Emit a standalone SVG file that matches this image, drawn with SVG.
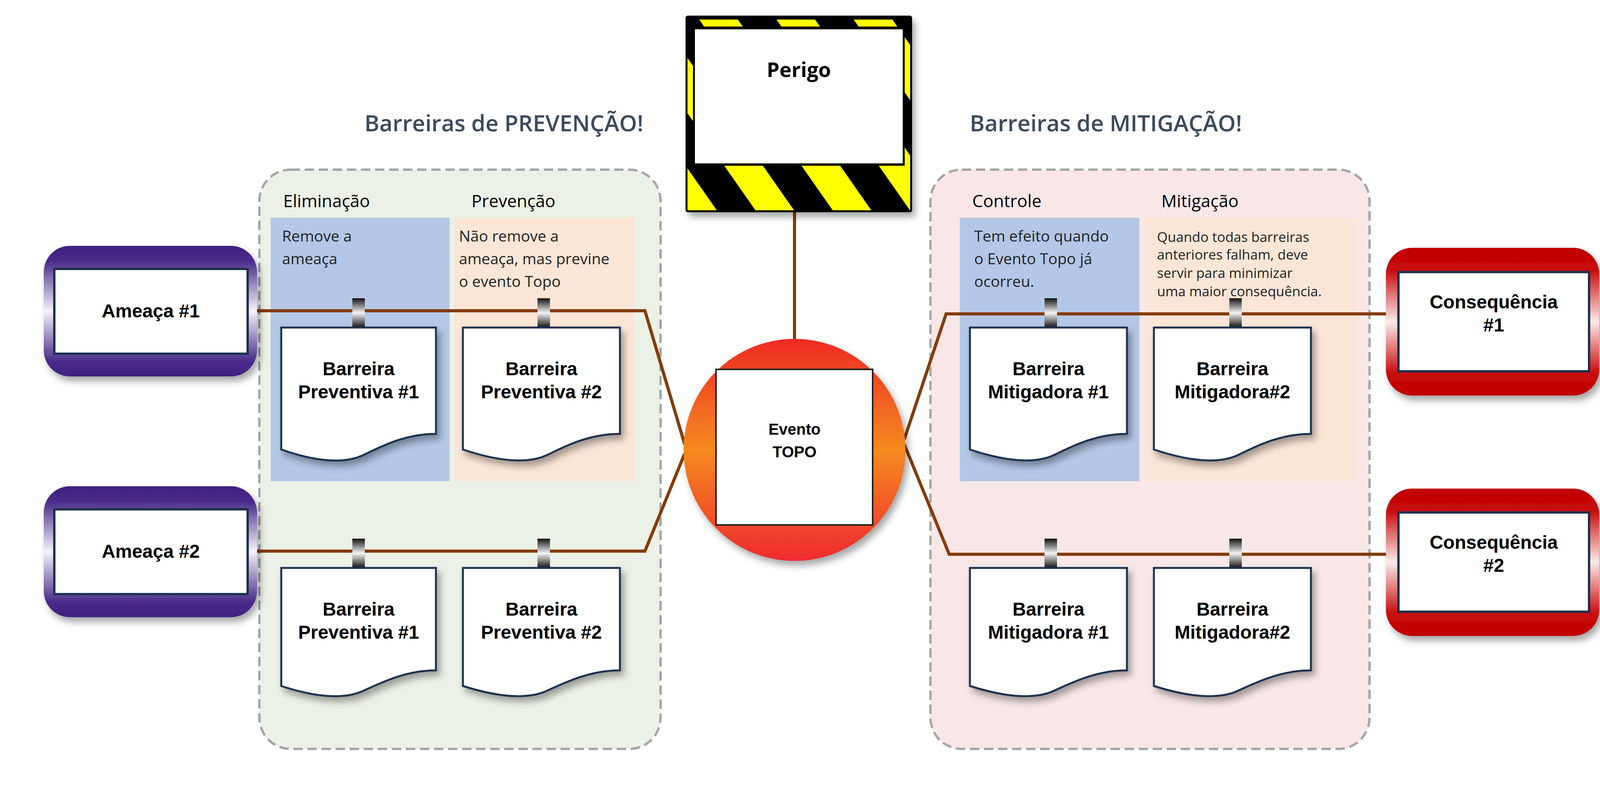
<svg xmlns="http://www.w3.org/2000/svg" width="4196" height="2016" viewBox="0 0 4196 2016">
<defs>
<style>
.title{font-family:"Open Sans","Liberation Sans",sans-serif;font-weight:600;font-size:58px;fill:#3b4a5e}
.hdr{font-family:"Open Sans","Liberation Sans",sans-serif;font-size:44px;fill:#000}
.pt{font-family:"Open Sans","Liberation Sans",sans-serif;font-weight:400;font-size:39px;fill:#222}
.pt2{font-family:"Open Sans","Liberation Sans",sans-serif;font-weight:400;font-size:35px;fill:#222}
.lbl{font-family:"Liberation Sans",Arial,sans-serif;font-weight:bold;font-size:48px;fill:#000;text-anchor:middle}
.doc{fill:#fff;stroke:#1f3050;stroke-width:5;filter:url(#sh)}
.conn{fill:none;stroke:#843c0c;stroke-width:8}
.clip{fill:url(#clipg)}
.inner{fill:#fff;stroke:#1f3050;stroke-width:6}
</style>
<filter id="sh" x="-20%" y="-20%" width="150%" height="150%"><feDropShadow dx="8" dy="12" stdDeviation="9" flood-color="#000" flood-opacity="0.35"/></filter>
<linearGradient id="purp" x1="0" y1="0" x2="0" y2="1"><stop offset="0" stop-color="#3d2180"/><stop offset="0.12" stop-color="#4a2d8a"/><stop offset="0.5" stop-color="#f4f2fa"/><stop offset="0.88" stop-color="#4a2d8a"/><stop offset="1" stop-color="#3d2180"/></linearGradient>
<linearGradient id="red" x1="0" y1="0" x2="0" y2="1"><stop offset="0" stop-color="#c00000"/><stop offset="0.15" stop-color="#c80a0a"/><stop offset="0.5" stop-color="#fbeaea"/><stop offset="0.85" stop-color="#c80a0a"/><stop offset="1" stop-color="#c00000"/></linearGradient>
<linearGradient id="orb" x1="0" y1="0" x2="0" y2="1"><stop offset="0" stop-color="#ee2a24"/><stop offset="0.5" stop-color="#f58a1f"/><stop offset="1" stop-color="#ee2a30"/></linearGradient>
<linearGradient id="clipg" x1="0" y1="0" x2="0" y2="1"><stop offset="0" stop-color="#111"/><stop offset="0.5" stop-color="#f4f4f4"/><stop offset="1" stop-color="#111"/></linearGradient>
<pattern id="haz" width="162" height="200" patternUnits="userSpaceOnUse" patternTransform="translate(1755,0) rotate(-35)"><rect width="162" height="200" fill="#000"/><rect width="81" height="200" fill="#ffff00"/></pattern>
</defs>
<rect width="4196" height="2016" fill="#fff"/>

<g id="prevention-group">
<rect x="664" y="434" width="1027" height="1482" rx="80" fill="#ebf1e6" stroke="#a6a6a6" stroke-width="6" stroke-dasharray="24 12"/>
<text class="title" x="1290" y="336" text-anchor="middle">Barreiras de PREVENÇÃO!</text>
<text class="hdr" x="725" y="530">Eliminação</text>
<text class="hdr" x="1207" y="530">Prevenção</text>
<rect x="693" y="557" width="458" height="674" fill="#b4c7e7"/>
<rect x="1164" y="557" width="460" height="674" fill="#fbe5d6"/>
<text class="pt" x="722" y="618">Remove a</text>
<text class="pt" x="722" y="676">ameaça</text>
<text class="pt" x="1175" y="618">Não remove a</text>
<text class="pt" x="1175" y="676">ameaça, mas previne</text>
<text class="pt" x="1175" y="734">o evento Topo</text>
</g>

<g id="mitigation-group">
<rect x="2382" y="434" width="1124" height="1482" rx="80" fill="#f9e7e8" stroke="#a6a6a6" stroke-width="6" stroke-dasharray="24 12"/>
<text class="title" x="2831" y="336" text-anchor="middle">Barreiras de MITIGAÇÃO!</text>
<text class="hdr" x="2489" y="530">Controle</text>
<text class="hdr" x="2973" y="530">Mitigação</text>
<rect x="2457" y="557" width="460" height="674" fill="#b4c7e7"/>
<rect x="2930" y="557" width="546" height="674" fill="#fbe5d6"/>
<text class="pt" x="2494" y="618">Tem efeito quando</text>
<text class="pt" x="2494" y="676">o Evento Topo já</text>
<text class="pt" x="2494" y="734">ocorreu.</text>
<text class="pt2" x="2962" y="619">Quando todas barreiras</text>
<text class="pt2" x="2962" y="664">anteriores falham, deve</text>
<text class="pt2" x="2962" y="711">servir para minimizar</text>
<text class="pt2" x="2962" y="758">uma maior consequência.</text>
</g>

<g id="connectors">
<line class="conn" x1="2034" y1="404" x2="2034" y2="870"/>
<polyline class="conn" points="658,795 1651,795 1753,1137"/>
<polyline class="conn" points="658,1410 1651,1410 1753,1160"/>
<polyline class="conn" points="2315,1124 2422,803 3548,803"/>
<polyline class="conn" points="2315,1137 2430,1418 3548,1418"/>
</g>

<g id="perigo">
<rect x="1755" y="40" width="580" height="503" rx="6" fill="#000" filter="url(#sh)"/>
<rect x="1760" y="50" width="570" height="488" fill="url(#haz)"/>
<rect x="1774" y="68" width="542" height="356" fill="#000"/>
<rect x="1779" y="75" width="532" height="343" fill="#fff"/>
<text class="lbl" x="2045" y="197" style="font-family:'Open Sans','Liberation Sans',sans-serif;font-size:52px">Perigo</text>
</g>

<g id="ameaca1">
<rect x="112" y="629" width="546" height="334" rx="67" fill="url(#purp)" filter="url(#sh)"/>
<rect class="inner" x="139" y="688" width="495" height="217"/>
<text class="lbl" x="386" y="812">Ameaça #1</text>
</g>
<g id="ameaca2">
<rect x="112" y="1244" width="546" height="335" rx="67" fill="url(#purp)" filter="url(#sh)"/>
<rect class="inner" x="139" y="1303" width="495" height="217"/>
<text class="lbl" x="386" y="1427">Ameaça #2</text>
</g>
<g id="consequencia1">
<rect x="3548" y="634" width="546" height="378" rx="67" fill="url(#red)" filter="url(#sh)"/>
<rect class="inner" x="3580" y="696" width="488" height="254"/>
<text class="lbl" x="3824" y="789">Consequência</text>
<text class="lbl" x="3824" y="848">#1</text>
</g>
<g id="consequencia2">
<rect x="3548" y="1250" width="546" height="377" rx="67" fill="url(#red)" filter="url(#sh)"/>
<rect class="inner" x="3580" y="1311" width="488" height="254"/>
<text class="lbl" x="3824" y="1404">Consequência</text>
<text class="lbl" x="3824" y="1463">#2</text>
</g>

<g id="evento-topo">
<circle cx="2034" cy="1151" r="284" fill="url(#orb)" filter="url(#sh)"/>
<rect class="inner" x="1833" y="945" width="401" height="398" style="stroke:#222;stroke-width:4"/>
<text class="lbl" x="2034" y="1112" style="font-size:40px">Evento</text>
<text class="lbl" x="2034" y="1170" style="font-size:40px">TOPO</text>
</g>

<g id="barreiras">
<g id="bp1a"><rect class="clip" x="902" y="763" width="32" height="75"/><path class="doc" d="M720,838 H1116 V1110 C1040,1110 980,1140 935,1162 C890,1185 820,1185 720,1150 Z"/><text class="lbl" x="918" y="960">Barreira</text><text class="lbl" x="918" y="1019">Preventiva #1</text></g>
<g id="bp2a"><rect class="clip" x="1376" y="763" width="32" height="75"/><path class="doc" d="M1185,838 H1587 V1110 C1510,1110 1450,1140 1405,1162 C1360,1185 1290,1185 1185,1150 Z"/><text class="lbl" x="1386" y="960">Barreira</text><text class="lbl" x="1386" y="1019">Preventiva #2</text></g>
<g id="bp1b"><rect class="clip" x="902" y="1378" width="32" height="75"/><path class="doc" d="M720,1453 H1116 V1715 C1040,1715 980,1745 935,1765 C890,1788 820,1788 720,1755 Z"/><text class="lbl" x="918" y="1575">Barreira</text><text class="lbl" x="918" y="1634">Preventiva #1</text></g>
<g id="bp2b"><rect class="clip" x="1376" y="1378" width="32" height="75"/><path class="doc" d="M1185,1453 H1587 V1715 C1510,1715 1450,1745 1405,1765 C1360,1788 1290,1788 1185,1755 Z"/><text class="lbl" x="1386" y="1575">Barreira</text><text class="lbl" x="1386" y="1634">Preventiva #2</text></g>
<g id="bm1a"><rect class="clip" x="2674" y="763" width="32" height="75"/><path class="doc" d="M2483,838 H2885 V1110 C2808,1110 2748,1140 2703,1162 C2658,1185 2588,1185 2483,1150 Z"/><text class="lbl" x="2684" y="960">Barreira</text><text class="lbl" x="2684" y="1019">Mitigadora #1</text></g>
<g id="bm2a"><rect class="clip" x="3147" y="763" width="32" height="75"/><path class="doc" d="M2954,838 H3356 V1110 C3279,1110 3219,1140 3174,1162 C3129,1185 3059,1185 2954,1150 Z"/><text class="lbl" x="3155" y="960">Barreira</text><text class="lbl" x="3155" y="1019">Mitigadora#2</text></g>
<g id="bm1b"><rect class="clip" x="2674" y="1378" width="32" height="75"/><path class="doc" d="M2483,1453 H2885 V1715 C2808,1715 2748,1745 2703,1765 C2658,1788 2588,1788 2483,1755 Z"/><text class="lbl" x="2684" y="1575">Barreira</text><text class="lbl" x="2684" y="1634">Mitigadora #1</text></g>
<g id="bm2b"><rect class="clip" x="3147" y="1378" width="32" height="75"/><path class="doc" d="M2954,1453 H3356 V1715 C3279,1715 3219,1745 3174,1765 C3129,1788 3059,1788 2954,1755 Z"/><text class="lbl" x="3155" y="1575">Barreira</text><text class="lbl" x="3155" y="1634">Mitigadora#2</text></g>
</g>
</svg>
